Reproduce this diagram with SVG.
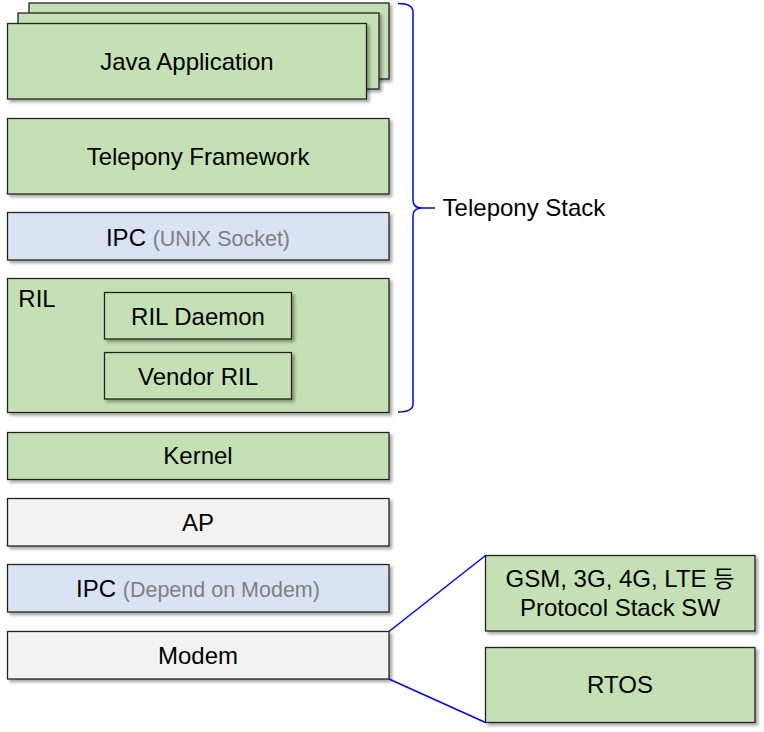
<svg xmlns="http://www.w3.org/2000/svg" width="764" height="732" viewBox="0 0 764 732">
<defs>
<filter id="sh" x="-5%" y="-10%" width="115%" height="140%">
<feDropShadow dx="2.5" dy="2.5" stdDeviation="1.5" flood-color="#000" flood-opacity="0.35"/>
</filter>
</defs>
<style>
.box{stroke:#222;stroke-width:1.3;filter:url(#sh)}
.g{fill:#c5e0b4}
.b{fill:#dae3f3}
.w{fill:#f2f2f2}
text{font-family:"Liberation Sans",Arial,sans-serif;font-size:24px;fill:#000;text-anchor:middle}
.dim{fill:#808080;font-size:21.5px}
.blue{fill:none;stroke:#0000ff;stroke-width:1.5}
</style>
<rect width="764" height="732" fill="#fff"/>
<g id="java-app">
<rect class="box g" x="29" y="3" width="360" height="76"/>
<rect class="box g" x="18" y="13" width="361" height="76"/>
<rect class="box g" x="7.5" y="23.5" width="359" height="75.5"/>
<text x="187" y="70">Java Application</text>
</g>
<g id="telepony-framework">
<rect class="box g" x="7.5" y="118.5" width="381.5" height="75.5"/>
<text x="198" y="165">Telepony Framework</text>
</g>
<g id="ipc-unix">
<rect class="box b" x="7.5" y="212.5" width="381.5" height="47.5"/>
<text x="198" y="246">IPC <tspan class="dim">(UNIX Socket)</tspan></text>
</g>
<g id="ril">
<rect class="box g" x="7.5" y="278.5" width="381.5" height="134"/>
<text x="37" y="307">RIL</text>
</g>
<g id="ril-daemon">
<rect class="box g" x="104.5" y="292.5" width="187" height="46.5"/>
<text x="198" y="325">RIL Daemon</text>
</g>
<g id="vendor-ril">
<rect class="box g" x="104.5" y="352.5" width="187" height="46.5"/>
<text x="198" y="385">Vendor RIL</text>
</g>
<g id="kernel">
<rect class="box g" x="7.5" y="432.5" width="381.5" height="47"/>
<text x="198" y="464">Kernel</text>
</g>
<g id="ap">
<rect class="box w" x="7.5" y="498.5" width="381.5" height="47.5"/>
<text x="198" y="531">AP</text>
</g>
<g id="ipc-modem">
<rect class="box b" x="7.5" y="564.5" width="381.5" height="47.5"/>
<text x="198" y="597">IPC <tspan class="dim">(Depend on Modem)</tspan></text>
</g>
<g id="modem">
<rect class="box w" x="7.5" y="631.5" width="381.5" height="47.5"/>
<text x="198" y="664">Modem</text>
</g>
<g id="protocol-stack">
<rect class="box g" x="485.5" y="555.5" width="269.5" height="75.5"/>
<text x="620" y="587">GSM, 3G, 4G, LTE <tspan font-family="'Noto Sans CJK KR',sans-serif" font-size="23">등</tspan></text>
<text x="620" y="616">Protocol Stack SW</text>
</g>
<g id="rtos">
<rect class="box g" x="485.5" y="647.5" width="269.5" height="75"/>
<text x="620" y="693">RTOS</text>
</g>
<g id="telepony-stack-label">
<text x="524" y="216">Telepony Stack</text>
</g>
<g id="connectors">
<path class="blue" d="M398,3.5 Q413,3.5 413,12 L413,200 Q413,208 422,208 L435,208 M422,208 Q413,208 413,216 L413,404 Q413,412 398,412"/>
<line class="blue" x1="389" y1="631.5" x2="485.5" y2="555.5"/>
<line class="blue" x1="389" y1="679" x2="485.5" y2="722.5"/>
</g>
</svg>
